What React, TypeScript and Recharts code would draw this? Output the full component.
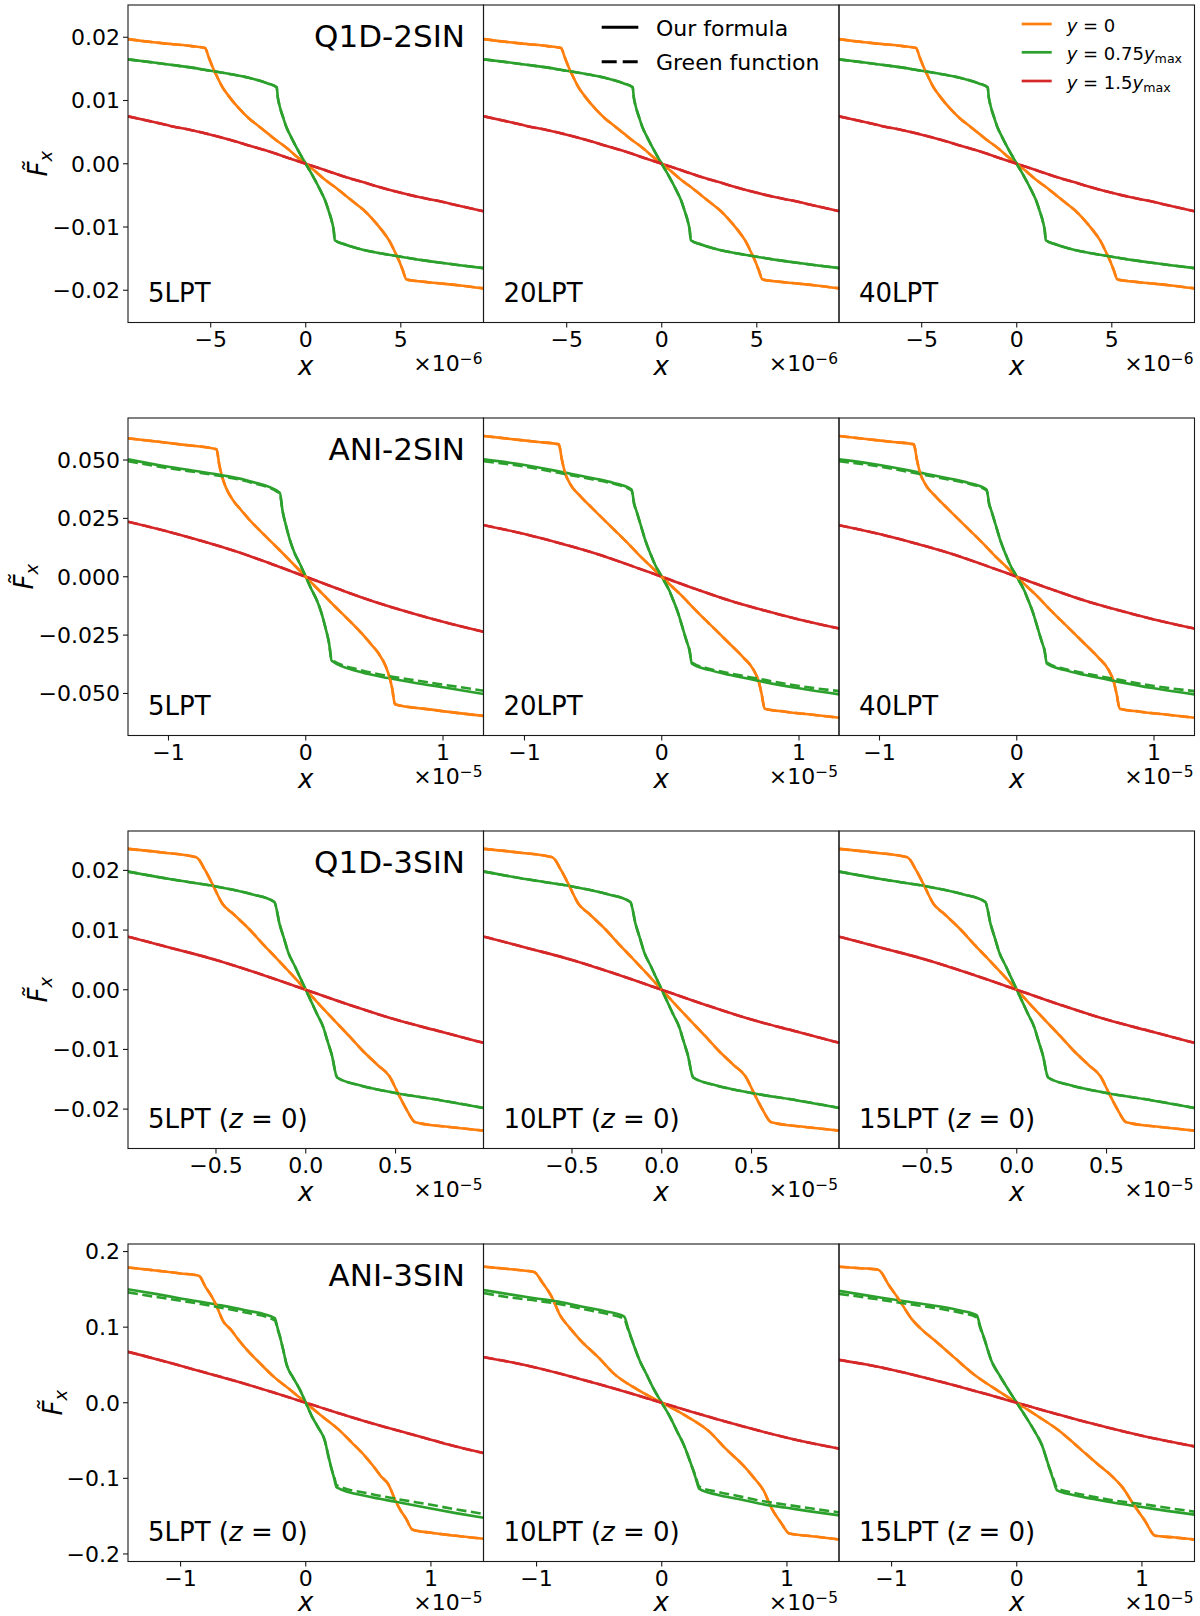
import React from "react";
import { LineChart, Line, XAxis, YAxis } from "recharts";

const FONT = "DejaVu Sans";
const C_ORANGE = "#ff7f0e";
const C_GREEN = "#2ca02c";
const C_RED = "#d62728";
const INK = "#1a1a1a";

// ---------- Row 1 : Q1D-2SIN (x in units of 1e-6) ----------
const r1Orange = [[-9.35,0.0197],[-8,0.0192],[-7,0.0189],[-6,0.0186],[-5.3,0.0183],[-5.1,0.0168],[-4.9,0.0153],[-4.7,0.0140],[-4.4,0.0122],[-4.0,0.0105],[-3.5,0.0087],[-3.0,0.0072],[-2.5,0.0060],[-2.0,0.0048],[-1.5,0.0036],[-1.0,0.0025],[-0.5,0.0012],[0,0],[0.5,-0.0012],[1.0,-0.0025],[1.5,-0.0036],[2.0,-0.0048],[2.5,-0.0060],[3.0,-0.0072],[3.5,-0.0087],[4.0,-0.0105],[4.4,-0.0122],[4.7,-0.0140],[4.9,-0.0153],[5.1,-0.0168],[5.3,-0.0183],[6,-0.0186],[7,-0.0189],[8,-0.0192],[9.35,-0.0197]];
const r1Green = [[-9.35,0.0165],[-8,0.0160],[-7,0.0156],[-6,0.0152],[-5,0.0147],[-4,0.0142],[-3,0.0136],[-2,0.0127],[-1.53,0.0121],[-1.47,0.0105],[-1.38,0.0092],[-1.2,0.0074],[-1.02,0.0058],[-0.75,0.0041],[-0.49,0.0026],[-0.25,0.0013],[0,0],[0.25,-0.0013],[0.49,-0.0026],[0.75,-0.0041],[1.02,-0.0058],[1.2,-0.0074],[1.38,-0.0092],[1.47,-0.0105],[1.53,-0.0121],[2,-0.0127],[3,-0.0136],[4,-0.0142],[5,-0.0147],[6,-0.0152],[7,-0.0156],[8,-0.0160],[9.35,-0.0165]];
const r1Red = [[-9.35,0.0075],[-8,0.0066],[-7,0.0059],[-6,0.0053],[-5,0.0046],[-4,0.0038],[-3,0.0029],[-2,0.0020],[-1,0.0010],[0,0],[1,-0.0010],[2,-0.0020],[3,-0.0029],[4,-0.0038],[5,-0.0046],[6,-0.0053],[7,-0.0059],[8,-0.0066],[9.35,-0.0075]];

// ---------- Row 2 : ANI-2SIN (x in units of 1e-5) ----------
const r2aOrange = [[-1.295,0.0593],[-1.1,0.0580],[-0.9,0.0566],[-0.65,0.0546],[-0.63,0.0480],[-0.61,0.0430],[-0.58,0.0380],[-0.53,0.0328],[-0.47,0.0285],[-0.41,0.0244],[-0.35,0.0207],[-0.29,0.0172],[-0.2,0.0120],[-0.1,0.0060],[0,0],[0.1,-0.0060],[0.2,-0.0120],[0.29,-0.0172],[0.35,-0.0207],[0.41,-0.0244],[0.47,-0.0285],[0.53,-0.0328],[0.58,-0.0380],[0.61,-0.0430],[0.63,-0.0480],[0.65,-0.0546],[0.9,-0.0568],[1.1,-0.0583],[1.295,-0.0596]];
const r2aGreen = [[-1.295,0.0503],[-1.0,0.0471],[-0.8,0.0453],[-0.6,0.0434],[-0.4,0.0408],[-0.189,0.0360],[-0.17,0.0286],[-0.14,0.0210],[-0.117,0.0160],[-0.08,0.0100],[-0.044,0.0057],[0,0],[0.044,-0.0057],[0.08,-0.0100],[0.117,-0.0160],[0.14,-0.0210],[0.17,-0.0286],[0.189,-0.0360],[0.4,-0.0408],[0.6,-0.0434],[0.8,-0.0455],[1.0,-0.0473],[1.295,-0.0502]];
const r2aGreenDash = [[-1.295,0.0495],[-1.0,0.0465],[-0.8,0.0448],[-0.6,0.0429],[-0.4,0.0404],[-0.189,0.0357],[-0.17,0.0284],[-0.14,0.0210],[-0.117,0.0160],[-0.08,0.0100],[-0.044,0.0057],[0,0],[0.044,-0.0057],[0.08,-0.0100],[0.117,-0.0160],[0.14,-0.0210],[0.17,-0.0284],[0.189,-0.0355],[0.4,-0.0400],[0.6,-0.0425],[0.8,-0.0444],[1.0,-0.0462],[1.295,-0.0488]];
const r2aRed = [[-1.295,0.0236],[-1.0,0.0193],[-0.75,0.0152],[-0.5,0.0107],[-0.25,0.0055],[0,0],[0.25,-0.0055],[0.5,-0.0107],[0.75,-0.0152],[1.0,-0.0193],[1.295,-0.0236]];

const r2bOrange = [[-1.295,0.0603],[-1.1,0.0590],[-0.9,0.0577],[-0.75,0.0567],[-0.727,0.0500],[-0.705,0.0446],[-0.67,0.0400],[-0.59,0.0343],[-0.5,0.0290],[-0.4,0.0232],[-0.32,0.0186],[-0.23,0.0133],[-0.154,0.0086],[-0.08,0.0045],[0,0],[0.08,-0.0045],[0.154,-0.0086],[0.23,-0.0133],[0.32,-0.0186],[0.4,-0.0232],[0.5,-0.0290],[0.59,-0.0343],[0.67,-0.0400],[0.705,-0.0446],[0.727,-0.0500],[0.75,-0.0565],[0.9,-0.0578],[1.1,-0.0591],[1.295,-0.0604]];
const r2bGreen = [[-1.295,0.0503],[-1.0,0.0479],[-0.705,0.0446],[-0.5,0.0422],[-0.35,0.0402],[-0.22,0.0374],[-0.2,0.0310],[-0.187,0.0286],[-0.15,0.0215],[-0.12,0.0157],[-0.08,0.0095],[-0.053,0.0057],[0,0],[0.053,-0.0057],[0.08,-0.0095],[0.12,-0.0157],[0.15,-0.0215],[0.187,-0.0286],[0.2,-0.0310],[0.22,-0.0372],[0.35,-0.0400],[0.5,-0.0421],[0.705,-0.0446],[1.0,-0.0478],[1.295,-0.0504]];
const r2bGreenDash = [[-1.295,0.0495],[-1.0,0.0472],[-0.705,0.0440],[-0.5,0.0417],[-0.35,0.0398],[-0.22,0.0370],[-0.2,0.0308],[-0.187,0.0286],[-0.15,0.0215],[-0.12,0.0157],[-0.08,0.0095],[-0.053,0.0057],[0,0],[0.053,-0.0057],[0.08,-0.0095],[0.12,-0.0157],[0.15,-0.0215],[0.187,-0.0286],[0.2,-0.0308],[0.22,-0.0368],[0.35,-0.0395],[0.5,-0.0414],[0.705,-0.0437],[1.0,-0.0468],[1.295,-0.0490]];
const r2bRed = [[-1.295,0.0221],[-1.0,0.0183],[-0.75,0.0145],[-0.5,0.0103],[-0.25,0.0053],[0,0],[0.25,-0.0053],[0.5,-0.0103],[0.75,-0.0145],[1.0,-0.0183],[1.295,-0.0222]];

// ---------- Row 3 : Q1D-3SIN (x in units of 1e-5) ----------
const r3Orange = [[-0.99,0.0236],[-0.8,0.0230],[-0.61,0.0222],[-0.56,0.0200],[-0.518,0.0176],[-0.466,0.0145],[-0.4,0.0126],[-0.313,0.0101],[-0.24,0.0077],[-0.164,0.0053],[-0.08,0.0026],[0,0],[0.08,-0.0026],[0.164,-0.0053],[0.24,-0.0077],[0.313,-0.0101],[0.4,-0.0126],[0.466,-0.0145],[0.518,-0.0176],[0.56,-0.0200],[0.61,-0.0222],[0.8,-0.0230],[0.99,-0.0236]];
const r3Green = [[-0.99,0.0198],[-0.75,0.0185],[-0.5,0.0173],[-0.3,0.0160],[-0.175,0.0147],[-0.145,0.0109],[-0.12,0.0085],[-0.099,0.0064],[-0.06,0.0039],[-0.034,0.0022],[0,0],[0.034,-0.0022],[0.06,-0.0039],[0.099,-0.0064],[0.12,-0.0085],[0.145,-0.0109],[0.175,-0.0147],[0.3,-0.0160],[0.5,-0.0173],[0.75,-0.0185],[0.99,-0.0198]];
const r3Red = [[-0.99,0.0089],[-0.75,0.0070],[-0.5,0.0050],[-0.25,0.0026],[0,0],[0.25,-0.0026],[0.5,-0.0050],[0.75,-0.0070],[0.99,-0.0089]];

// ---------- Row 4 : ANI-3SIN (x in units of 1e-5) ----------
const r4aOrange = [[-1.42,0.179],[-1.2,0.175],[-1.0,0.171],[-0.854,0.168],[-0.8,0.153],[-0.753,0.141],[-0.718,0.130],[-0.66,0.108],[-0.6,0.097],[-0.55,0.086],[-0.473,0.0705],[-0.37,0.053],[-0.261,0.0352],[-0.12,0.0165],[0,0],[0.12,-0.0165],[0.261,-0.0352],[0.37,-0.053],[0.473,-0.0705],[0.55,-0.086],[0.6,-0.097],[0.66,-0.108],[0.718,-0.130],[0.753,-0.141],[0.8,-0.153],[0.854,-0.168],[1.0,-0.172],[1.2,-0.176],[1.42,-0.180]];
const r4aGreen = [[-1.42,0.150],[-1.2,0.144],[-1.0,0.138],[-0.718,0.130],[-0.5,0.123],[-0.247,0.112],[-0.227,0.100],[-0.207,0.088],[-0.18,0.070],[-0.154,0.051],[-0.1,0.033],[-0.048,0.0176],[0,0],[0.048,-0.0176],[0.1,-0.033],[0.154,-0.051],[0.18,-0.070],[0.207,-0.088],[0.227,-0.100],[0.247,-0.112],[0.5,-0.124],[0.718,-0.131],[1.0,-0.140],[1.2,-0.146],[1.42,-0.152]];
const r4aGreenDash = [[-1.42,0.146],[-1.2,0.140],[-1.0,0.135],[-0.718,0.127],[-0.5,0.120],[-0.247,0.109],[-0.227,0.098],[-0.207,0.088],[-0.18,0.070],[-0.154,0.051],[-0.1,0.033],[-0.048,0.0176],[0,0],[0.048,-0.0176],[0.1,-0.033],[0.154,-0.051],[0.18,-0.070],[0.207,-0.088],[0.227,-0.098],[0.247,-0.109],[0.5,-0.120],[0.718,-0.127],[1.0,-0.135],[1.2,-0.141],[1.42,-0.147]];
const r4aRed = [[-1.42,0.0674],[-1.2,0.058],[-1.0,0.0488],[-0.75,0.0375],[-0.5,0.0258],[-0.25,0.0131],[0,0],[0.25,-0.0131],[0.5,-0.0258],[0.75,-0.0375],[1.0,-0.0488],[1.2,-0.058],[1.42,-0.0665]];

const r4bOrange = [[-1.42,0.180],[-1.2,0.1765],[-1.02,0.173],[-0.95,0.158],[-0.88,0.1405],[-0.813,0.116],[-0.74,0.100],[-0.653,0.0833],[-0.5,0.059],[-0.387,0.0392],[-0.2,0.018],[0,0],[0.2,-0.018],[0.387,-0.0392],[0.5,-0.059],[0.653,-0.0833],[0.74,-0.100],[0.813,-0.116],[0.88,-0.1405],[0.95,-0.158],[1.02,-0.173],[1.2,-0.1765],[1.42,-0.181]];
const r4bGreen = [[-1.42,0.149],[-1.2,0.143],[-1.0,0.138],[-0.8,0.133],[-0.6,0.126],[-0.45,0.121],[-0.3,0.114],[-0.27,0.099],[-0.24,0.084],[-0.173,0.0546],[-0.12,0.037],[-0.067,0.019],[0,0],[0.067,-0.019],[0.12,-0.037],[0.173,-0.0546],[0.24,-0.084],[0.27,-0.099],[0.3,-0.114],[0.45,-0.122],[0.6,-0.127],[0.8,-0.134],[1.0,-0.139],[1.2,-0.144],[1.42,-0.149]];
const r4bGreenDash = [[-1.42,0.145],[-1.2,0.139],[-1.0,0.135],[-0.8,0.130],[-0.6,0.123],[-0.45,0.118],[-0.3,0.111],[-0.27,0.097],[-0.24,0.084],[-0.173,0.0546],[-0.12,0.037],[-0.067,0.019],[0,0],[0.067,-0.019],[0.12,-0.037],[0.173,-0.0546],[0.24,-0.084],[0.27,-0.097],[0.3,-0.111],[0.45,-0.118],[0.6,-0.123],[0.8,-0.130],[1.0,-0.135],[1.2,-0.140],[1.42,-0.145]];
const r4bRed = [[-1.42,0.0603],[-1.2,0.0535],[-1.0,0.0463],[-0.75,0.0358],[-0.5,0.0245],[-0.25,0.0125],[0,0],[0.25,-0.0125],[0.5,-0.0245],[0.75,-0.0358],[1.0,-0.0463],[1.2,-0.0537],[1.42,-0.0608]];

const r4cOrange = [[-1.42,0.180],[-1.25,0.178],[-1.107,0.176],[-1.02,0.155],[-0.939,0.136],[-0.845,0.112],[-0.76,0.097],[-0.659,0.083],[-0.5,0.060],[-0.339,0.037],[-0.17,0.018],[0,0],[0.17,-0.018],[0.339,-0.037],[0.5,-0.060],[0.659,-0.083],[0.76,-0.097],[0.845,-0.112],[0.939,-0.136],[1.02,-0.155],[1.107,-0.176],[1.25,-0.178],[1.42,-0.181]];
const r4cGreen = [[-1.42,0.148],[-1.2,0.142],[-1.0,0.137],[-0.8,0.132],[-0.6,0.127],[-0.45,0.122],[-0.32,0.116],[-0.29,0.100],[-0.26,0.085],[-0.2,0.0546],[-0.14,0.037],[-0.07,0.018],[0,0],[0.07,-0.018],[0.14,-0.037],[0.2,-0.0555],[0.26,-0.086],[0.29,-0.101],[0.323,-0.116],[0.45,-0.122],[0.6,-0.127],[0.8,-0.133],[1.0,-0.138],[1.2,-0.143],[1.42,-0.148]];
const r4cGreenDash = [[-1.42,0.144],[-1.2,0.139],[-1.0,0.134],[-0.8,0.129],[-0.6,0.124],[-0.45,0.119],[-0.32,0.113],[-0.29,0.098],[-0.26,0.085],[-0.2,0.0546],[-0.14,0.037],[-0.07,0.018],[0,0],[0.07,-0.018],[0.14,-0.037],[0.2,-0.0555],[0.26,-0.086],[0.29,-0.099],[0.323,-0.113],[0.45,-0.119],[0.6,-0.124],[0.8,-0.130],[1.0,-0.134],[1.2,-0.139],[1.42,-0.144]];
const r4cRed = [[-1.42,0.0568],[-1.2,0.0505],[-1.0,0.0437],[-0.75,0.0338],[-0.5,0.0232],[-0.25,0.0118],[0,0],[0.25,-0.0118],[0.5,-0.0232],[0.75,-0.0338],[1.0,-0.0437],[1.2,-0.0507],[1.42,-0.0577]];

// ---------- Axis ticks & labels ----------
const r1XTicks = [-5, 0, 5];
const r1XLabels = ["\u22125", "0", "5"];
const r1YTicks = [-0.02, -0.01, 0, 0.01, 0.02];
const r1YLabels = ["\u22120.02", "\u22120.01", "0.00", "0.01", "0.02"];
const r2XTicks = [-1, 0, 1];
const r2XLabels = ["\u22121", "0", "1"];
const r2YTicks = [-0.05, -0.025, 0, 0.025, 0.05];
const r2YLabels = ["\u22120.050", "\u22120.025", "0.000", "0.025", "0.050"];
const r3XTicks = [-0.5, 0, 0.5];
const r3XLabels = ["\u22120.5", "0.0", "0.5"];
const r3YTicks = [-0.02, -0.01, 0, 0.01, 0.02];
const r3YLabels = ["\u22120.02", "\u22120.01", "0.00", "0.01", "0.02"];
const r4XTicks = [-1, 0, 1];
const r4XLabels = ["\u22121", "0", "1"];
const r4YTicks = [-0.2, -0.1, 0, 0.1, 0.2];
const r4YLabels = ["\u22120.2", "\u22120.1", "0.0", "0.1", "0.2"];

const rowTitles = ["Q1D-2SIN", "ANI-2SIN", "Q1D-3SIN", "ANI-3SIN"];
const panelOrders = [["5", "20", "40"], ["5", "20", "40"], ["5", "10", "15"], ["5", "10", "15"]];
const rowExponents = ["\u22126", "\u22125", "\u22125", "\u22125"];

// ---------- Layout ----------
const COL_L = [128, 483.5, 839];
const PW = 355.5;
const ROW_T = [5, 418, 831, 1244];
const PH = 317.5;
const YLABEL_X = [46.7, 33, 46.7, 61.7];
const XLABEL_DY = [52.5, 52.5, 52.5, 49.5];

type Pair = number[];
const pts = (a: Pair[]) => a.map(([x, y]) => ({ x, y }));

type RowCfg = {
  xDomain: number[]; yDomain: number[];
  xTicks: number[]; xLabels: string[]; yTicks: number[]; yLabels: string[];
  panels: { orange: Pair[]; green: Pair[]; red: Pair[]; orangeD: Pair[]; greenD: Pair[]; redD: Pair[] }[];
  zLabel: boolean;
};

const ROWS: RowCfg[] = [
  {
    xDomain: [-9.35, 9.35], yDomain: [-0.0251, 0.0251],
    xTicks: r1XTicks, xLabels: r1XLabels, yTicks: r1YTicks, yLabels: r1YLabels, zLabel: false,
    panels: [
      { orange: r1Orange, green: r1Green, red: r1Red, orangeD: r1Orange, greenD: r1Green, redD: r1Red },
      { orange: r1Orange, green: r1Green, red: r1Red, orangeD: r1Orange, greenD: r1Green, redD: r1Red },
      { orange: r1Orange, green: r1Green, red: r1Red, orangeD: r1Orange, greenD: r1Green, redD: r1Red },
    ],
  },
  {
    xDomain: [-1.295, 1.295], yDomain: [-0.068, 0.068],
    xTicks: r2XTicks, xLabels: r2XLabels, yTicks: r2YTicks, yLabels: r2YLabels, zLabel: false,
    panels: [
      { orange: r2aOrange, green: r2aGreen, red: r2aRed, orangeD: r2aOrange, greenD: r2aGreenDash, redD: r2aRed },
      { orange: r2bOrange, green: r2bGreen, red: r2bRed, orangeD: r2bOrange, greenD: r2bGreenDash, redD: r2bRed },
      { orange: r2bOrange, green: r2bGreen, red: r2bRed, orangeD: r2bOrange, greenD: r2bGreenDash, redD: r2bRed },
    ],
  },
  {
    xDomain: [-0.99, 0.99], yDomain: [-0.0266, 0.0266],
    xTicks: r3XTicks, xLabels: r3XLabels, yTicks: r3YTicks, yLabels: r3YLabels, zLabel: true,
    panels: [
      { orange: r3Orange, green: r3Green, red: r3Red, orangeD: r3Orange, greenD: r3Green, redD: r3Red },
      { orange: r3Orange, green: r3Green, red: r3Red, orangeD: r3Orange, greenD: r3Green, redD: r3Red },
      { orange: r3Orange, green: r3Green, red: r3Red, orangeD: r3Orange, greenD: r3Green, redD: r3Red },
    ],
  },
  {
    xDomain: [-1.42, 1.42], yDomain: [-0.21, 0.21],
    xTicks: r4XTicks, xLabels: r4XLabels, yTicks: r4YTicks, yLabels: r4YLabels, zLabel: true,
    panels: [
      { orange: r4aOrange, green: r4aGreen, red: r4aRed, orangeD: r4aOrange, greenD: r4aGreenDash, redD: r4aRed },
      { orange: r4bOrange, green: r4bGreen, red: r4bRed, orangeD: r4bOrange, greenD: r4bGreenDash, redD: r4bRed },
      { orange: r4cOrange, green: r4cGreen, red: r4cRed, orangeD: r4cOrange, greenD: r4cGreenDash, redD: r4cRed },
    ],
  },
];

const lookup = (ticks: number[], labels: string[], v: number) => {
  let best = 0;
  for (let i = 0; i < ticks.length; i++) {
    if (Math.abs(ticks[i] - v) < Math.abs(ticks[best] - v)) best = i;
  }
  return labels[best];
};

const LW = 2.6;
const DASH = "10 4.5";

function Panel({ row, r, c }: { row: RowCfg; r: number; c: number }) {
  const yw = c === 0 ? 120 : 12;
  const p = row.panels[c];
  const left = COL_L[c];
  const top = ROW_T[r];
  const tickStyle = { fontSize: 22, fill: "#000", fontFamily: FONT };
  const series = [
    { d: p.orange, col: C_ORANGE, dash: undefined, k: "o" },
    { d: p.green, col: C_GREEN, dash: undefined, k: "g" },
    { d: p.red, col: C_RED, dash: undefined, k: "r" },
    { d: p.orangeD, col: C_ORANGE, dash: DASH, k: "od" },
    { d: p.greenD, col: C_GREEN, dash: DASH, k: "gd" },
    { d: p.redD, col: C_RED, dash: DASH, k: "rd" },
  ];
  return (
    <div style={{ position: "absolute", left: left - yw, top: top - 4 }}>
      <LineChart
        width={PW + yw + 4}
        height={PH + 4 + 46}
        margin={{ top: 4, right: 4, bottom: 0, left: 0 }}
      >
        <XAxis
          type="number"
          dataKey="x"
          domain={row.xDomain}
          allowDataOverflow
          ticks={row.xTicks}
          interval={0}
          tickFormatter={(v: number) => lookup(row.xTicks, row.xLabels, v)}
          axisLine={false}
          tickLine={{ stroke: INK, strokeWidth: 1.1 }}
          tickSize={5}
          tickMargin={4}
          height={46}
          tick={tickStyle}
        />
        <YAxis
          type="number"
          domain={row.yDomain}
          allowDataOverflow
          ticks={row.yTicks}
          interval={0}
          width={yw}
          tickFormatter={(v: number) => lookup(row.yTicks, row.yLabels, v)}
          axisLine={false}
          tickLine={{ stroke: INK, strokeWidth: 1.1 }}
          tickSize={5}
          tickMargin={3}
          tick={c === 0 ? tickStyle : false}
        />
        {series.map((s) => (
          <Line
            key={s.k}
            data={pts(s.d)}
            dataKey="y"
            type="monotone"
            stroke={s.col}
            strokeWidth={LW}
            strokeDasharray={s.dash}
            dot={false}
            activeDot={false}
            isAnimationActive={false}
            strokeLinejoin="round"
          />
        ))}
      </LineChart>
    </div>
  );
}

function Overlay() {
  const items: React.ReactNode[] = [];
  ROWS.forEach((row, r) => {
    const T = ROW_T[r];
    for (let c = 0; c < 3; c++) {
      const L = COL_L[c];
      items.push(
        <rect key={`f${r}${c}`} x={L} y={T} width={PW} height={PH} fill="none" stroke={INK} strokeWidth={1.1} />
      );
      items.push(
        <text key={`l${r}${c}`} x={L + 20} y={T + PH - 21} fontSize={26} fontFamily={FONT} fill="#000">
          {panelOrders[r][c] + "LPT"}
          {row.zLabel ? (
            <>
              {" ("}
              <tspan fontStyle="italic">z</tspan>
              {" = 0)"}
            </>
          ) : null}
        </text>
      );
      items.push(
        <text key={`x${r}${c}`} x={L + PW / 2} y={T + PH + XLABEL_DY[r]} fontSize={26} fontStyle="italic" fontFamily={FONT} textAnchor="middle" fill="#000">
          x
        </text>
      );
      items.push(
        <text key={`e${r}${c}`} x={L + PW - 1} y={T + PH + 48.5} fontSize={22} fontFamily={FONT} textAnchor="end" fill="#000">
          {"\u00d710"}
          <tspan fontSize={15.4} dy={-7.5}>{rowExponents[r]}</tspan>
        </text>
      );
    }
    items.push(
      <text key={`t${r}`} x={COL_L[0] + PW - 18.5} y={T + 42} fontSize={31} fontFamily={FONT} textAnchor="end" fill="#000">
        {rowTitles[r]}
      </text>
    );
    items.push(
      <text
        key={`y${r}`}
        transform={`translate(${YLABEL_X[r]}, ${T + PH / 2}) rotate(-90)`}
        fontSize={26}
        fontStyle="italic"
        fontFamily={FONT}
        textAnchor="middle"
        fill="#000"
      >
        {"F\u0303"}
        <tspan fontSize={18} dy={5}>x</tspan>
      </text>
    );
  });

  items.push(<line key="lg1" x1={601.7} x2={638.3} y1={27.3} y2={27.3} stroke="#000" strokeWidth={3} />);
  items.push(
    <text key="lg1t" x={656} y={36} fontSize={22} fontFamily={FONT} fill="#000">Our formula</text>
  );
  items.push(<line key="lg2" x1={601.7} x2={638.3} y1={61.7} y2={61.7} stroke="#000" strokeWidth={3} strokeDasharray="15 6" />);
  items.push(
    <text key="lg2t" x={656} y={70} fontSize={22} fontFamily={FONT} fill="#000">Green function</text>
  );

  const leg = [
    { y: 24, col: C_ORANGE, val: "0", sub: false },
    { y: 52.3, col: C_GREEN, val: "0.75", sub: true },
    { y: 81, col: C_RED, val: "1.5", sub: true },
  ];
  leg.forEach((g, i) => {
    items.push(<line key={`cl${i}`} x1={1021.7} x2={1051.7} y1={g.y} y2={g.y} stroke={g.col} strokeWidth={2.7} />);
    items.push(
      <text key={`ct${i}`} x={1066.7} y={g.y + 7.7} fontSize={18} fontFamily={FONT} fill="#000">
        <tspan fontStyle="italic">y</tspan>
        {" = " + g.val}
        {g.sub ? (
          <>
            <tspan fontStyle="italic">y</tspan>
            <tspan fontSize={12.6} dy={3}>max</tspan>
          </>
        ) : null}
      </text>
    );
  });

  return (
    <svg
      width={1200}
      height={1616}
      style={{ position: "absolute", left: 0, top: 0, pointerEvents: "none" }}
    >
      {items}
    </svg>
  );
}

export default function App() {
  return (
    <div style={{ position: "absolute", left: 0, top: 0, width: 1200, height: 1616, background: "#fff", fontFamily: FONT }}>
      {ROWS.map((row, r) =>
        [0, 1, 2].map((c) => <Panel key={`p${r}${c}`} row={row} r={r} c={c} />)
      )}
      <Overlay />
    </div>
  );
}
